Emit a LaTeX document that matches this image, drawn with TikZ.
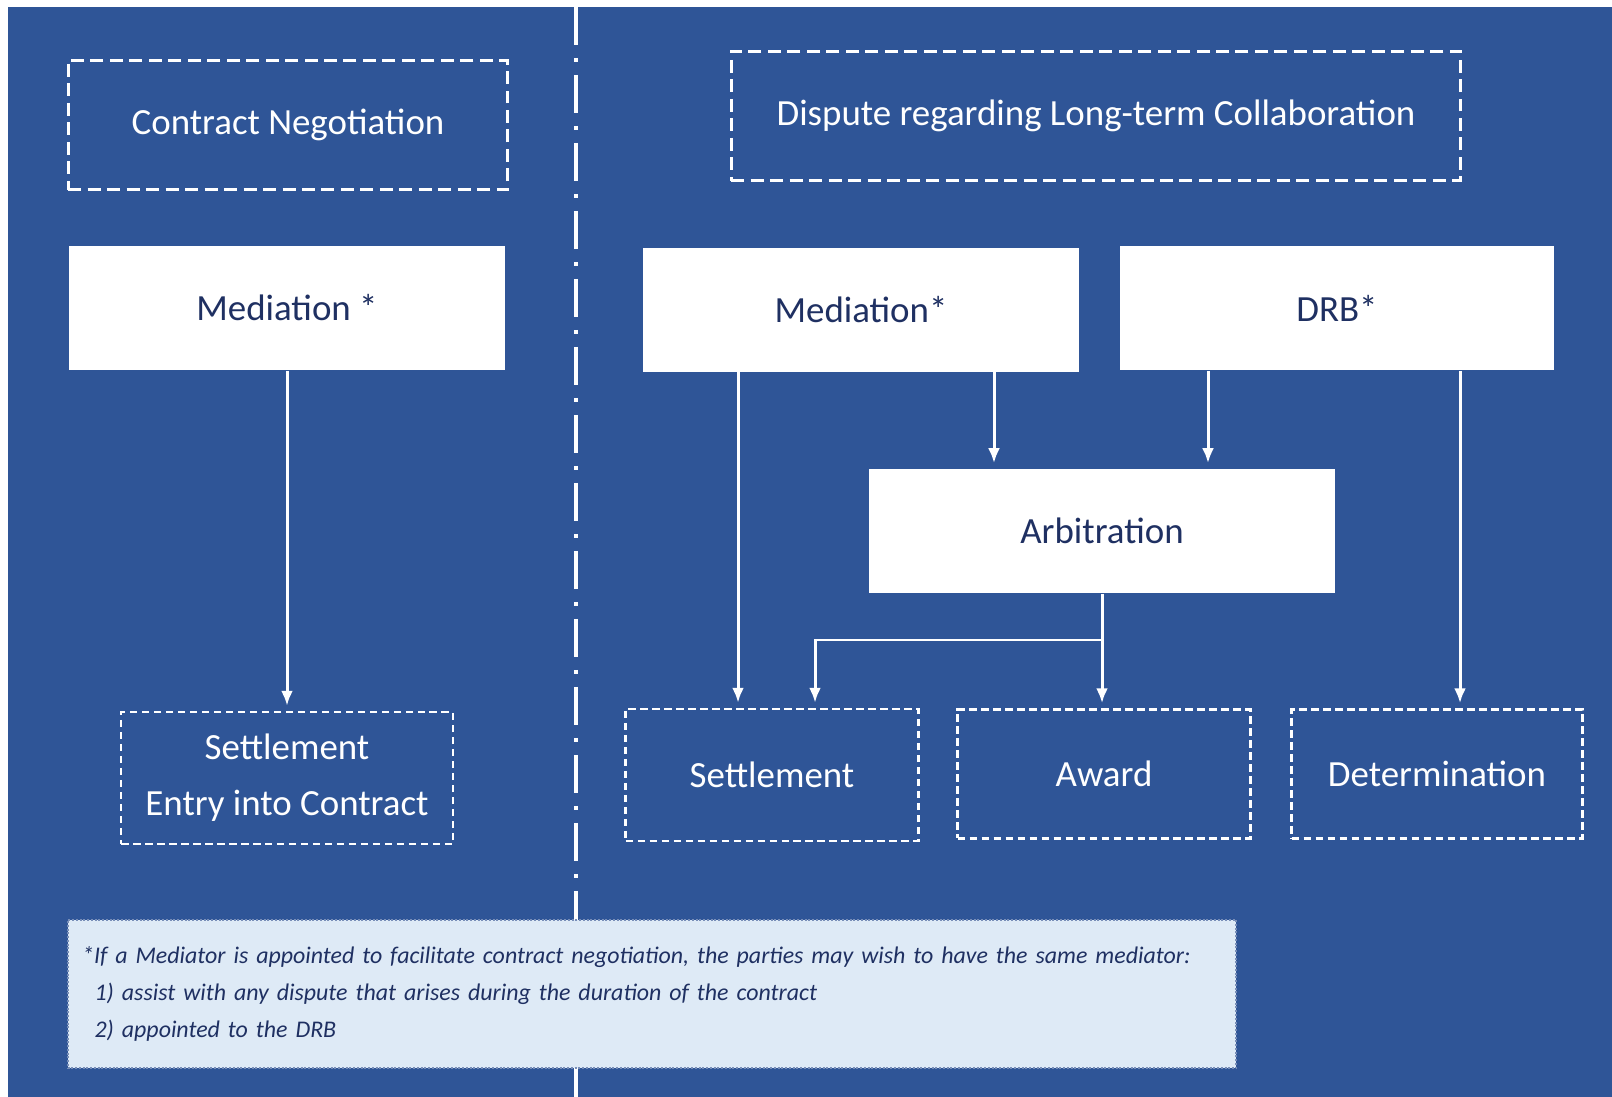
\documentclass[tikz,border=0pt]{standalone}
\usepackage{fontspec}
\setmainfont{Carlito}
\usetikzlibrary{arrows.meta}
\definecolor{bgblue}{RGB}{47,85,151}
\definecolor{navy}{RGB}{31,48,98}
\definecolor{notefill}{RGB}{222,234,246}
\definecolor{noteedge}{RGB}{120,142,184}
\newcommand{\bx}{\fontsize{21}{32}\selectfont}

\tikzset{
  topbox/.style={draw=white, line width=0.06cm, dash pattern=on 0.26cm off 0.13cm,
    text=white, font=\bx, inner sep=0pt},
  endbox/.style={draw=white, line width=0.05cm, dash pattern=on 0.15cm off 0.09cm,
    text=white, font=\bx, align=center, inner sep=0pt},
  solidbox/.style={fill=white, text=navy, font=\bx, inner sep=0pt},
  arr/.style={draw=white, line width=0.06cm, -{Latex[length=0.3cm,width=0.24cm]},
    shorten >=0.1cm},
}

\begin{document}
\begin{tikzpicture}[x=0.02cm,y=-0.02cm]
  \useasboundingbox (0,0) rectangle (1612,1097);
  \fill[bgblue] (8,7) rectangle (1612,1097);
  % divider
  \draw[white, line width=0.07cm, dash pattern=on 0.76cm off 0.26cm on 0.08cm off 0.26cm]
    (576,7) -- (576,1066);
  \draw[white, line width=0.07cm] (576,1066) -- (576,1097);

  % left column
  \node[topbox,   minimum width=8.8cm,  minimum height=2.6cm]  (neg)     at ( 288, 125) {Contract Negotiation};
  \node[solidbox, minimum width=8.72cm, minimum height=2.5cm]  (medL)    at ( 287, 308) {Mediation *};
  \node[endbox,   minimum width=6.64cm, minimum height=2.64cm] (settleL) at ( 287, 778) {Settlement\\Entry into Contract};

  % right column
  \node[topbox,   minimum width=14.6cm, minimum height=2.6cm]  (dispute) at (1096, 116) {Dispute regarding Long-term Collaboration};
  \node[solidbox, minimum width=8.72cm, minimum height=2.48cm] (medR)    at ( 861, 310) {Mediation*};
  \node[solidbox, minimum width=8.68cm, minimum height=2.5cm]  (drb)     at (1337, 308) {DRB*};
  \node[solidbox, minimum width=9.32cm, minimum height=2.5cm]  (arb)     at (1102, 531) {Arbitration};
  \node[endbox,   minimum width=5.86cm, minimum height=2.64cm] (settle)  at ( 772, 775) {Settlement};
  \node[endbox,   minimum width=5.86cm, minimum height=2.58cm] (award)   at (1104, 774) {Award};
  \node[endbox,   minimum width=5.82cm, minimum height=2.58cm] (determ)  at (1437, 774) {Determination};

  % arrow columns
  \coordinate (sa)   at ( 738, 0);
  \coordinate (sb)   at ( 815, 0);
  \coordinate (ma)   at ( 994, 0);
  \coordinate (da)   at (1208, 0);
  \coordinate (dd)   at (1460, 0);
  \coordinate (fork) at (1102, 640);

  \draw[arr] (medL.south) -- (settleL.north);
  \draw[arr] (medR.south -| sa) -- (settle.north -| sa);
  \draw[arr] (medR.south -| ma) -- (arb.north -| ma);
  \draw[arr] (drb.south -| da) -- (arb.north -| da);
  \draw[arr] (drb.south -| dd) -- (determ.north -| dd);
  \draw[arr] (arb.south) -- (arb.south |- award.north);
  \draw[arr] (arb.south) -- (fork) -| (settle.north -| sb);

  % footnote
  \node[draw=noteedge, fill=notefill, densely dotted, line width=0.04cm,
        minimum width=23.38cm, minimum height=2.96cm, text width=22.8cm,
        align=left, inner sep=0pt, text=navy,
        font=\itshape\fontsize{13.6}{21}\selectfont] (note) at (652, 994)
    {*If a Mediator is appointed to facilitate contract negotiation, the parties may wish to have the same mediator:\\
     \hspace*{0.25cm}1) assist with any dispute that arises during the duration of the contract\\
     \hspace*{0.25cm}2) appointed to the DRB};
\end{tikzpicture}
\end{document}
